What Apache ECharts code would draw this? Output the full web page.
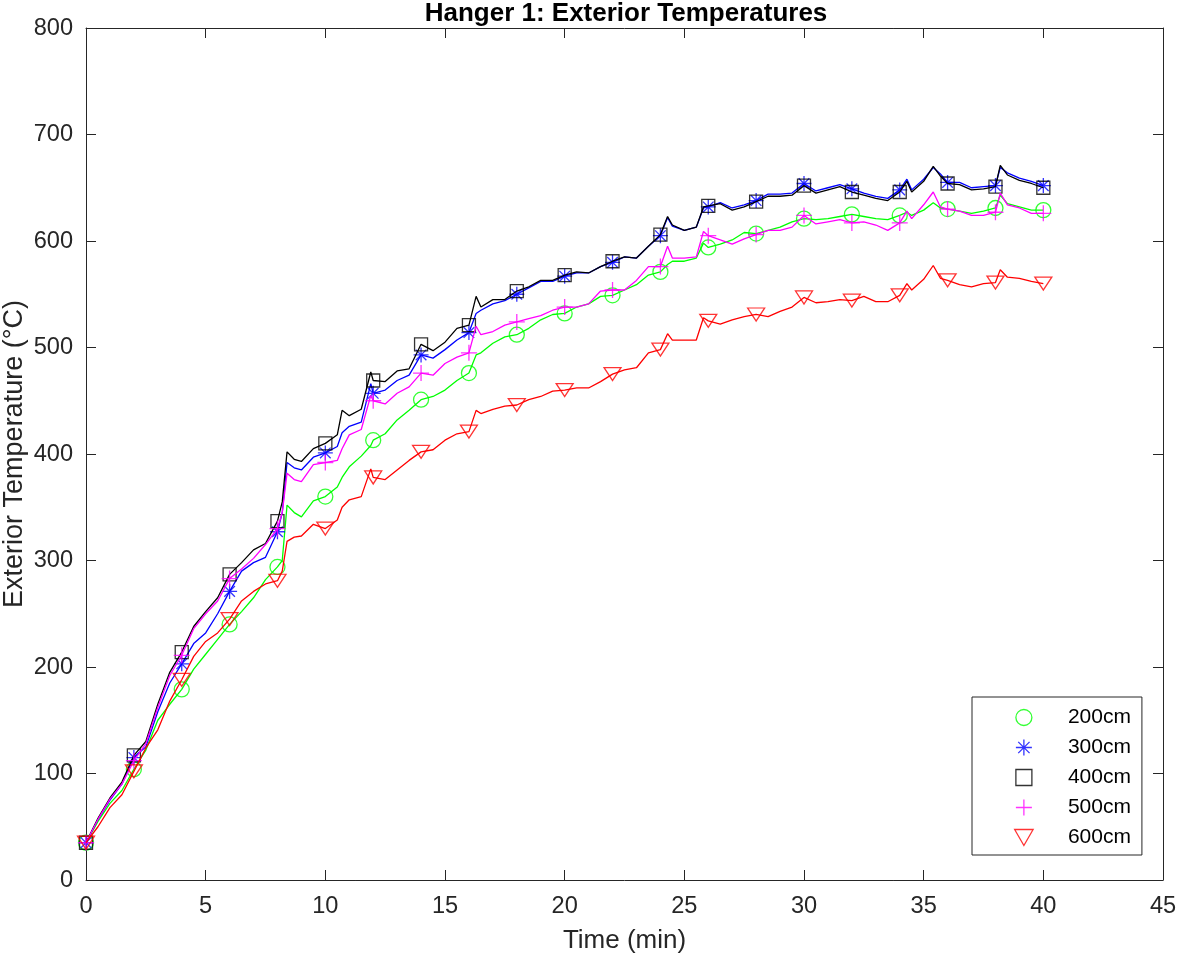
<!DOCTYPE html>
<html>
<head>
<meta charset="utf-8">
<script src="https://cdn.jsdelivr.net/npm/echarts@6/dist/echarts.min.js"></script>
<style>
html,body{margin:0;padding:0;background:#fff;}
#chart{width:1181px;height:958px;}
</style>
</head>
<body>
<div id="chart"></div>
<script>
// Time (min)
const times = [
  0,0.5,1,1.5,2,2.5,3,3.5,4,4.5,5,5.5,6,6.5,7,7.5,8,
  8.2,8.4,8.7,9,9.5,10,10.5,10.7,11,11.5,11.9,12,
  12.5,13,13.5,14,14.5,15,15.5,16,
  16.3,16.5,17,17.5,18,18.5,19,19.5,20,
  20.5,21,21.5,22,22.5,23,23.5,24,24.3,24.5,25,25.5,25.8,26,
  26.5,27,27.5,28,28.5,29,29.5,30,30.5,31,31.5,32,32.5,33,33.5,34,
  34.3,34.5,35,35.4,35.7,36,36.5,37,37.5,38,38.2,38.5,39,39.5,40
];
const temp200 = [
  35,55,72,84,104,122,150,165,179,198,212,226,240,252,265,282,294,
  300,352,345,341,356,360,369,378,388,398,408,413,
  419,432,441,451,454,460,469,476,
  493,495,504,510,512,518,526,531,532,
  538,541,548,549,554,559,568,571,578,581,581,584,598,594,
  597,601,608,607,610,613,618,621,620,621,623,625,623,621,620,624,
  627,624,629,636,631,630,628,626,628,631,643,635,632,629,629
];
const temp300 = [
  35,57,75,90,115,125,158,185,203,222,232,250,271,290,298,303,327,
  345,392,387,385,397,401,407,420,426,430,466,457,
  460,469,474,493,490,498,507,514,
  532,535,541,544,550,556,562,562,567,
  570,570,576,580,585,584,595,605,622,614,610,613,631,632,
  636,631,634,638,644,644,645,654,647,650,653,649,645,642,640,648,
  658,648,658,669,663,655,655,650,651,652,669,664,659,656,652
];
const temp400 = [
  35,58,77,92,117,130,165,195,214,238,252,265,287,298,310,316,337,
  355,402,395,393,405,410,418,441,436,442,477,469,
  468,478,480,503,497,505,518,521,
  548,538,545,545,553,557,563,563,568,
  571,570,576,581,585,584,595,606,623,615,610,613,632,633,
  635,629,632,637,642,642,643,652,645,648,651,646,643,640,638,646,
  656,646,656,670,661,654,653,648,649,651,671,662,657,654,650
];
const temp500 = [
  35,57,76,90,112,128,162,192,211,236,250,262,283,292,302,315,330,
  345,382,376,374,390,392,394,405,418,423,455,450,
  447,457,463,476,474,485,491,495,
  520,512,515,521,524,527,530,535,538,
  538,541,553,554,554,563,576,576,595,584,584,585,609,605,
  601,597,602,606,610,610,613,624,616,618,620,617,618,615,610,617,
  628,621,634,646,632,630,628,624,624,627,645,634,631,626,626
];
const temp600 = [
  35,50,68,80,102,124,141,168,188,210,224,232,245,262,271,278,281,
  290,318,322,323,334,330,338,350,357,360,386,378,
  376,385,394,402,404,413,419,421,
  441,438,442,445,446,451,454,459,460,
  462,462,468,475,479,481,495,498,513,507,507,507,528,525,
  522,526,529,531,529,534,538,547,542,543,545,544,548,543,543,549,
  560,554,564,577,565,563,559,557,560,561,573,566,565,562,560
];
const seriesNames = ['200cm','300cm','400cm','500cm','600cm'];
const xTicks = {min:0, max:45, step:5};
const yTicks = {min:0, max:800, step:100};

const colors = ['#00FF00','#0000FF','#000000','#FF00FF','#FF0000'];
const symbols = [
  'circle',
  'path://M5,0L5,10M0,5L10,5M1.46,1.46L8.54,8.54M8.54,1.46L1.46,8.54',
  'path://M0,0L10,0L10,10L0,10Z',
  'path://M5,0L5,10M0,5L10,5',
  'path://M0,0L10,0L5,8.66Z'
];
const symSizes = [15, 15, 13, 16, [17,15]];
const allTemps = [temp200, temp300, temp400, temp500, temp600];

const FONT = '"Liberation Sans", Arial, Helvetica, sans-serif';
const AX = '#262626';

const series = [];
allTemps.forEach((vals, i) => {
  const pts = times.map((t, k) => [t, vals[k]]);
  series.push({
    name: seriesNames[i] + ' line',
    type: 'line',
    data: pts,
    showSymbol: false,
    symbol: 'none',
    lineStyle: {color: colors[i], width: 1.3},
    itemStyle: {color: colors[i]},
    emphasis: {disabled: true},
    silent: true,
    z: 2 + i * 2
  });
  series.push({
    name: seriesNames[i],
    type: 'scatter',
    data: pts.filter(p => Math.abs(p[0] / 2 - Math.round(p[0] / 2)) < 1e-9),
    symbol: symbols[i],
    symbolSize: symSizes[i],
    symbolKeepAspect: true,
    itemStyle: {color: 'rgba(0,0,0,0)', borderColor: colors[i], borderWidth: 1.3},
    emphasis: {disabled: true},
    silent: true,
    z: 3 + i * 2
  });
});

const baseX = {
  type: 'value', min: xTicks.min, max: xTicks.max, interval: xTicks.step,
  axisLine: {show: true, onZero: false, lineStyle: {color: AX, width: 1}},
  axisTick: {show: true, inside: true, length: 10, lineStyle: {color: AX, width: 1}},
  splitLine: {show: false}
};
const baseY = {
  type: 'value', min: yTicks.min, max: yTicks.max, interval: yTicks.step,
  axisLine: {show: true, onZero: false, lineStyle: {color: AX, width: 1}},
  axisTick: {show: true, inside: true, length: 10, lineStyle: {color: AX, width: 1}},
  splitLine: {show: false}
};

const chart = echarts.init(document.getElementById('chart'), null, {renderer: 'canvas'});
chart.setOption({
  animation: false,
  backgroundColor: '#fff',
  title: {
    text: 'Hanger 1: Exterior Temperatures',
    left: 626, top: 1, textAlign: 'center', padding: 0,
    textStyle: {fontFamily: FONT, fontSize: 26, fontWeight: 'bold', color: '#000'}
  },
  grid: {left: 86, right: 18, top: 28, bottom: 78, containLabel: false, outerBoundsMode: 'none'},
  legend: {
    data: seriesNames,
    orient: 'vertical',
    left: 972, top: 697,
    padding: [10, 11, 7, 42],
    itemWidth: 78, itemHeight: 16, itemGap: 9,
    borderColor: AX, borderWidth: 1,
    backgroundColor: '#fff',
    selectedMode: false,
    textStyle: {fontFamily: FONT, fontSize: 21, color: '#000'},
    itemStyle: {borderWidth: 1.3}
  },
  xAxis: [
    Object.assign({}, baseX, {
      position: 'bottom',
      name: 'Time (min)', nameLocation: 'middle', nameGap: 48,
      nameTextStyle: {fontFamily: FONT, fontSize: 26, color: AX},
      axisLabel: {fontFamily: FONT, fontSize: 23.6, color: AX, margin: 14}
    }),
    Object.assign({}, baseX, {position: 'top', axisLabel: {show: false}})
  ],
  yAxis: [
    Object.assign({}, baseY, {
      position: 'left',
      name: 'Exterior Temperature (°C)', nameLocation: 'middle', nameGap: 58,
      nameMoveOverlap: false,
      nameTextStyle: {fontFamily: FONT, fontSize: 27, color: AX},
      axisLabel: {fontFamily: FONT, fontSize: 23.6, color: AX, margin: 13}
    }),
    Object.assign({}, baseY, {position: 'right', axisLabel: {show: false}})
  ],
  series: series
});
</script>
</body>
</html>
